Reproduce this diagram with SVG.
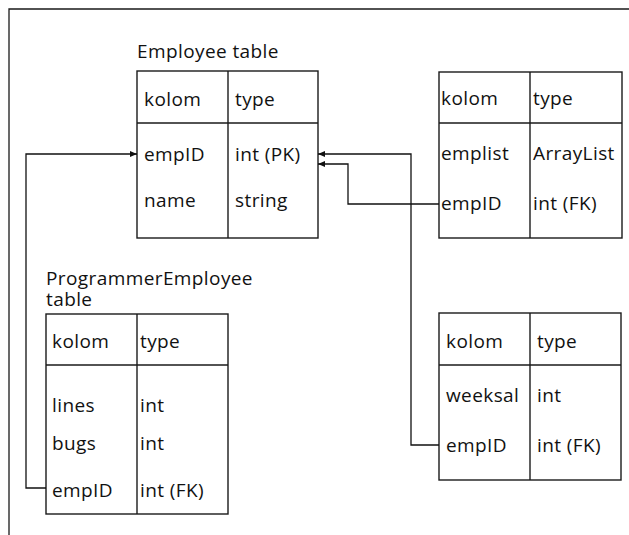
<svg xmlns="http://www.w3.org/2000/svg" width="629" height="535" viewBox="0 0 629 535">
  <style>
    .frame { fill: none; stroke: #1a1a1a; stroke-width: 1.3; }
    .tbl { fill: #fff; stroke: #1a1a1a; stroke-width: 1.4; }
    .div { stroke: #1a1a1a; stroke-width: 1.4; }
    .t { font-family: "Open Sans", "Noto Sans", sans-serif; font-size: 19px; letter-spacing: 0.4px; fill: #111; }
    .conn { fill: none; stroke: #111; stroke-width: 1.3; }
  </style>
  <defs>
    <marker id="arr" markerUnits="userSpaceOnUse" markerWidth="8" markerHeight="6" refX="7" refY="3" orient="auto">
      <path d="M0,0 L7,3 L0,6 z" fill="#111"/>
    </marker>
  </defs>
  <rect width="629" height="535" fill="#fff"/>
  <path class="frame" d="M9,540 V9 H634"/>

  <g id="employee-table">
    <text class="t" x="137" y="58">Employee table</text>
    <rect class="tbl" x="137" y="71" width="181" height="167"/>
    <line class="div" x1="228" y1="71" x2="228" y2="238"/>
    <line class="div" x1="137" y1="123" x2="318" y2="123"/>
    <text class="t" x="144" y="106">kolom</text>
    <text class="t" x="235" y="106">type</text>
    <text class="t" x="144" y="161">empID</text>
    <text class="t" x="235" y="161">int (PK)</text>
    <text class="t" x="144" y="207">name</text>
    <text class="t" x="235" y="207">string</text>
  </g>

  <g id="list-table">
    <rect class="tbl" x="439" y="72" width="183" height="166"/>
    <line class="div" x1="530" y1="72" x2="530" y2="238"/>
    <line class="div" x1="439" y1="123" x2="622" y2="123"/>
    <text class="t" x="441" y="105">kolom</text>
    <text class="t" x="533" y="105">type</text>
    <text class="t" x="441" y="160">emplist</text>
    <text class="t" x="533" y="160">ArrayList</text>
    <text class="t" x="441" y="210">empID</text>
    <text class="t" x="533" y="210">int (FK)</text>
  </g>

  <g id="programmer-table">
    <text class="t" x="46" y="285">ProgrammerEmployee</text>
    <text class="t" x="46" y="306">table</text>
    <rect class="tbl" x="46" y="314" width="182" height="200"/>
    <line class="div" x1="137" y1="314" x2="137" y2="514"/>
    <line class="div" x1="46" y1="365" x2="228" y2="365"/>
    <text class="t" x="52" y="348">kolom</text>
    <text class="t" x="140" y="348">type</text>
    <text class="t" x="52" y="412">lines</text>
    <text class="t" x="140" y="412">int</text>
    <text class="t" x="52" y="450">bugs</text>
    <text class="t" x="140" y="450">int</text>
    <text class="t" x="52" y="497">empID</text>
    <text class="t" x="140" y="497">int (FK)</text>
  </g>

  <g id="salary-table">
    <rect class="tbl" x="439" y="313" width="182" height="167"/>
    <line class="div" x1="530" y1="313" x2="530" y2="480"/>
    <line class="div" x1="439" y1="365" x2="621" y2="365"/>
    <text class="t" x="446" y="348">kolom</text>
    <text class="t" x="537" y="348">type</text>
    <text class="t" x="446" y="402">weeksal</text>
    <text class="t" x="537" y="402">int</text>
    <text class="t" x="446" y="452">empID</text>
    <text class="t" x="537" y="452">int (FK)</text>
  </g>

  <g id="connectors">
    <path class="conn" d="M46,488 H26 V154 H137" marker-end="url(#arr)"/>
    <path class="conn" d="M439,204 H348 V164 H318" marker-end="url(#arr)"/>
    <path class="conn" d="M439,445 H411 V154 H318" marker-end="url(#arr)"/>
  </g>
</svg>
